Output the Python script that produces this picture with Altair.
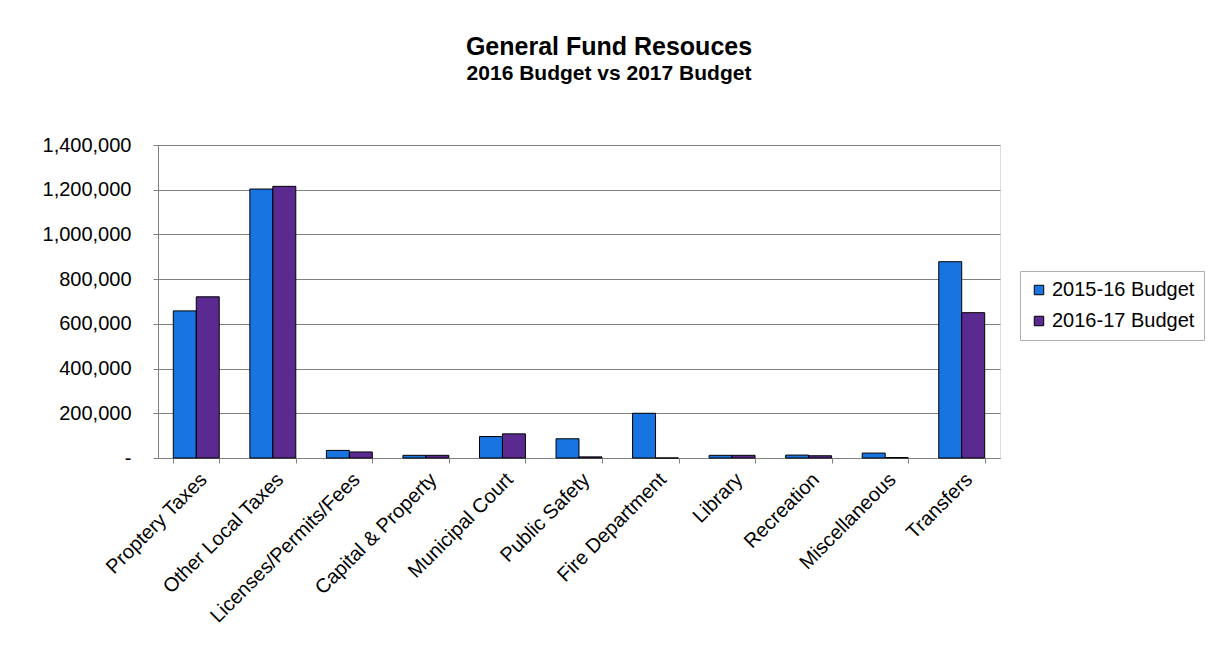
import altair as alt
import pandas as pd

categories = ["Proptery Taxes", "Other Local Taxes", "Licenses/Permits/Fees",
              "Capital & Property", "Municipal Court", "Public Safety",
              "Fire Department", "Library", "Recreation", "Miscellaneous", "Transfers"]
budget_2015_16 = [658000, 1203000, 34000, 12000, 96000, 86000, 200000, 12000, 13000, 22000, 878000]
budget_2016_17 = [721000, 1215000, 27000, 12000, 108000, 5000, 0, 12000, 10000, 2000, 650000]
series = ["2015-16 Budget", "2016-17 Budget"]
colors = ["#1874E0", "#5B2A91"]
y_ticks = [0, 200000, 400000, 600000, 800000, 1000000, 1200000, 1400000]

rows = []
for c, a, b in zip(categories, budget_2015_16, budget_2016_17):
    rows.append({"category": c, "series": series[0], "value": a})
    rows.append({"category": c, "series": series[1], "value": b})
df = pd.DataFrame(rows)

FONT = "Liberation Sans"

chart = alt.Chart(df).mark_bar(stroke="black", strokeWidth=1).encode(
    x=alt.X("category:N", sort=categories, title=None,
            scale=alt.Scale(paddingInner=0.4, paddingOuter=0.2),
            axis=alt.Axis(labelAngle=-45, labelFontSize=20, labelFont=FONT,
                          labelColor="black", tickBand="extent", tickSize=5,
                          tickColor="#808080", domainColor="#808080",
                          labelPadding=6, grid=False, labelLimit=400)),
    xOffset=alt.XOffset("series:N", sort=series),
    y=alt.Y("value:Q", title=None,
            scale=alt.Scale(domain=[0, 1400000]),
            axis=alt.Axis(values=y_ticks,
                          labelExpr="datum.value == 0 ? '-\u00a0\u00a0' : format(datum.value, ',')",
                          labelFontSize=20, labelFont=FONT, labelColor="black",
                          tickSize=5, tickColor="#808080", domainColor="#808080",
                          gridColor="#808080", gridWidth=1, labelPadding=22)),
    color=alt.Color("series:N", sort=series,
                    scale=alt.Scale(domain=series, range=colors),
                    legend=alt.Legend(title=None, orient="none", legendX=862, legendY=126,
                                      symbolType="square", symbolSize=90,
                                      symbolStrokeColor="black", symbolStrokeWidth=1,
                                      labelFontSize=20, labelFont=FONT, labelColor="black",
                                      strokeColor="#b0b0b0", padding=9, rowPadding=11,
                                      labelOffset=3)),
).properties(
    width=842,
    height=313,
    title=alt.TitleParams(text="General Fund Resouces",
                          subtitle="2016 Budget vs 2017 Budget",
                          fontSize=25, font=FONT, fontWeight="bold", color="black",
                          subtitleFontSize=21, subtitleFont=FONT, subtitleFontWeight="bold",
                          subtitleColor="black", subtitlePadding=3,
                          anchor="middle", frame="group", offset=51, dx=30),
    padding={"left": 158, "top": 145, "right": 217, "bottom": 208},
    autosize=alt.AutoSizeParams(type="none"),
).configure_view(
    fill="#E8E8EE", stroke="#808080", strokeWidth=1
).configure(background="white")

chart.save("out.html", embed_options={"renderer": "svg", "actions": False})
